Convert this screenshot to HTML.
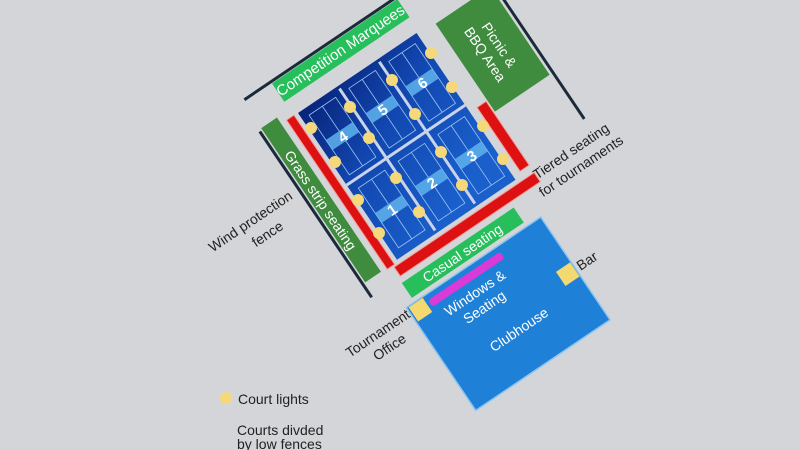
<!DOCTYPE html>
<html><head><meta charset="utf-8"><style>
html,body{margin:0;padding:0;background:#d3d5d8;width:800px;height:450px;overflow:hidden;}
svg{display:block;font-family:"Liberation Sans",sans-serif;}
</style></head><body>
<svg width="800" height="450" viewBox="0 0 800 450" xmlns="http://www.w3.org/2000/svg">
<defs>
<linearGradient id="cg" x1="0" y1="0" x2="0.4" y2="1">
<stop offset="0" stop-color="#08237a"/><stop offset="0.45" stop-color="#1247b0"/><stop offset="1" stop-color="#1a5fcc"/>
</linearGradient>
</defs>
<rect width="800" height="450" fill="#d3d5d8"/>
<g transform="translate(298,113) rotate(-34)" font-size="14">
<!-- fences -->
<line x1="-37" y1="-41" x2="160" y2="-41" stroke="#1b2a3a" stroke-width="3"/>
<line x1="234" y1="-40" x2="234" y2="165" stroke="#1b2a3a" stroke-width="3"/>
<line x1="-42" y1="-6" x2="-42" y2="194" stroke="#1b2a3a" stroke-width="3"/>
<!-- green areas -->
<rect x="-5" y="-39" width="151" height="22" fill="#27bf5c"/>
<rect x="164" y="3" width="66" height="106" fill="#3f8c3e"/>
<rect x="-39" y="-8" width="19" height="186" fill="#3f8c3e"/>
<rect x="-9" y="199" width="135" height="18" fill="#27bf5c"/>
<!-- red bars -->
<rect x="-14" y="-1" width="10" height="181" fill="#f3a0a0"/>
<rect x="-13" y="0" width="8" height="179" fill="#dd1111"/>
<rect x="151" y="95" width="12" height="78" fill="#f3a0a0"/>
<rect x="152" y="96" width="10" height="76" fill="#dd1111"/>
<rect x="-7" y="181" width="170" height="12" fill="#f3a0a0"/>
<rect x="-6" y="182" width="168" height="10" fill="#dd1111"/>
<!-- clubhouse -->
<rect x="-19" y="222" width="162" height="124" fill="#1f80d8" stroke="#8cc4f0" stroke-width="1.5"/>
<rect x="3" y="228" width="87" height="8" rx="3" fill="#d93ad8"/>
<rect x="-17" y="223" width="17" height="17" fill="#f4d870"/>
<rect x="125" y="276" width="17" height="17" fill="#f4d870"/>
<!-- court -->
<rect x="0" y="0" width="143" height="177" fill="url(#cg)"/>
<g fill="none" stroke="#9cc6f2" stroke-width="0.8">
<rect x="8" y="8" width="32" height="72"/><rect x="56" y="8" width="32" height="72"/><rect x="104" y="8" width="32" height="72"/>
<rect x="8" y="96" width="32" height="72"/><rect x="56" y="96" width="32" height="72"/><rect x="104" y="96" width="32" height="72"/>
<line x1="24" y1="8" x2="24" y2="80"/><line x1="72" y1="8" x2="72" y2="80"/><line x1="120" y1="8" x2="120" y2="80"/>
<line x1="24" y1="96" x2="24" y2="168"/><line x1="72" y1="96" x2="72" y2="168"/><line x1="120" y1="96" x2="120" y2="168"/>
</g>
<g fill="#5fb3ee" opacity="0.85">
<rect x="8" y="38" width="32" height="12"/><rect x="56" y="38" width="32" height="12"/><rect x="104" y="38" width="32" height="12"/>
<rect x="8" y="126" width="32" height="12"/><rect x="56" y="126" width="32" height="12"/><rect x="104" y="126" width="32" height="12"/>
</g>
<g stroke="#c8d4ea" stroke-width="3">
<line x1="0" y1="87" x2="143" y2="87"/>
<line x1="48" y1="3" x2="48" y2="174"/>
<line x1="96" y1="3" x2="96" y2="174"/>
</g>
<g fill="#fff" font-weight="bold" font-size="15" text-anchor="middle">
<text x="24" y="50">4</text><text x="72" y="50">5</text><text x="120" y="50">6</text>
<text x="24" y="138">1</text><text x="72" y="138">2</text><text x="120" y="138">3</text>
</g>
<!-- labels in frame -->
<g fill="#fff" text-anchor="middle">
<text x="70" y="-23" font-size="15">Competition Marquees</text>
<text x="58" y="213">Casual seating</text>
<text x="46" y="253">Windows &amp;</text>
<text x="46" y="270">Seating</text>
<text x="62" y="308">Clubhouse</text>
<text transform="translate(-30,85) rotate(90)" y="5">Grass strip seating</text>
<text transform="translate(197,56) rotate(90)" y="-3">Picnic &amp;</text>
<text transform="translate(197,56) rotate(90)" y="14">BBQ Area</text>
</g>
<g fill="#222" text-anchor="middle">
<text x="-100" y="68">Wind protection</text>
<text x="-93" y="88">fence</text>
<text x="-57" y="232">Tournament</text>
<text x="-55" y="250">Office</text>
<text x="146" y="289" text-anchor="start">Bar</text>
<text x="205" y="189">Tiered seating</text>
<text x="205" y="207">for tournaments</text>
</g>
</g>
<!-- lights -->
<g fill="#f4d87a">
<circle cx="431" cy="53" r="6"/><circle cx="392" cy="80" r="6"/><circle cx="452" cy="87" r="6"/>
<circle cx="350" cy="107" r="6"/><circle cx="415" cy="114" r="6"/><circle cx="311" cy="128" r="6"/>
<circle cx="483" cy="126" r="6"/><circle cx="369" cy="138" r="6"/><circle cx="335" cy="162" r="6"/>
<circle cx="441" cy="152" r="6"/><circle cx="503" cy="159" r="6"/><circle cx="396" cy="178" r="6"/>
<circle cx="462" cy="185" r="6"/><circle cx="358" cy="200" r="6"/><circle cx="419" cy="212" r="6"/>
<circle cx="379" cy="233" r="6"/>
<circle cx="226" cy="398" r="6"/>
</g>
<g fill="#222" font-size="14">
<text x="238" y="404">Court lights</text>
<text x="237" y="435">Courts divded</text>
<text x="237" y="449">by low fences</text>
</g>
</svg>
</body></html>
